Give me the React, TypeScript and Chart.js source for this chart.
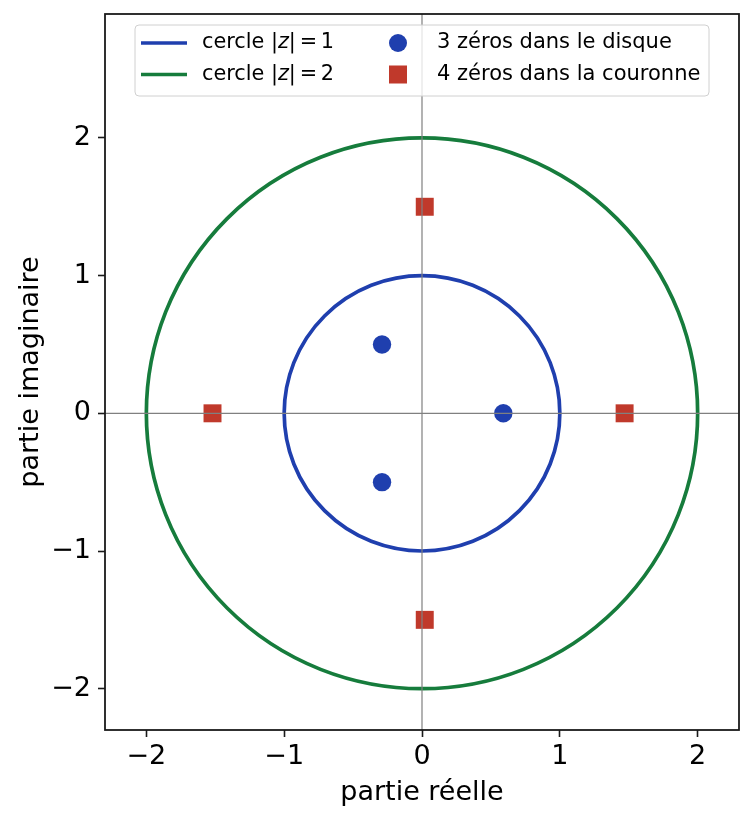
import React, { useEffect, useRef } from 'react';
import { Chart, registerables } from 'chart.js';

Chart.register(...registerables);

const FONT = "'DejaVu Sans', sans-serif";

const xTicks = [-2, -1, 0, 1, 2];
const yTicks = [-2, -1, 0, 1, 2];

const circleRadii = [1, 2];
const circleColors = ['#1f3fae', '#167c3c'];

const diskRe = [-0.29, -0.29, 0.59];
const diskIm = [0.5, -0.5, 0];
const annulusRe = [0.02, 0.02, -1.52, 1.47];
const annulusIm = [1.5, -1.5, 0, 0];

const diskColor = '#1f3fae';
const annulusColor = '#c0392b';

const diskLabel = '3 zéros dans le disque';
const annulusLabel = '4 zéros dans la couronne';

const fmt = (v: number) => (v < 0 ? '\u2212' + Math.abs(v) : String(v));

// "cercle |z| = r" with an italic z, spaced like mathtext
function drawCircleLabel(ctx: CanvasRenderingContext2D, x: number, y: number, r: number) {
  const parts: [string, boolean, number][] = [
    ['cercle |', false, 0],
    ['z', true, 0],
    ['|', false, 4],
    ['=', false, 3.5],
    [String(r), false, 0],
  ];
  let cx = x;
  for (const [t, it, gap] of parts) {
    ctx.font = (it ? 'italic ' : '') + '20.8px ' + FONT;
    ctx.fillText(t, cx, y);
    cx += ctx.measureText(t).width + gap;
  }
}

const decor = {
  id: 'decor',
  beforeDatasetsDraw(chart: any) {
    const { ctx, chartArea: a, scales } = chart;
    const { x, y } = scales;
    ctx.save();
    ctx.beginPath();
    ctx.rect(a.left, a.top, a.right - a.left, a.bottom - a.top);
    ctx.clip();
    const cx = x.getPixelForValue(0);
    const cy = y.getPixelForValue(0);
    circleRadii.forEach((r, i) => {
      const rx = x.getPixelForValue(r) - cx;
      const ry = cy - y.getPixelForValue(r);
      ctx.beginPath();
      ctx.ellipse(cx, cy, rx, ry, 0, 0, Math.PI * 2);
      ctx.strokeStyle = circleColors[i];
      ctx.lineWidth = 3.7;
      ctx.stroke();
    });
    ctx.restore();
  },
  afterDatasetsDraw(chart: any) {
    const { ctx, chartArea: a, scales } = chart;
    const x0 = scales.x.getPixelForValue(0);
    const y0 = scales.y.getPixelForValue(0);
    ctx.save();
    ctx.strokeStyle = '#808080';
    ctx.lineWidth = 1.2;
    ctx.beginPath();
    ctx.moveTo(a.left, y0);
    ctx.lineTo(a.right, y0);
    ctx.moveTo(x0, a.top);
    ctx.lineTo(x0, a.bottom);
    ctx.stroke();
    ctx.restore();
  },
  afterDraw(chart: any) {
    const { ctx, chartArea: a } = chart;
    ctx.save();
    // frame
    ctx.strokeStyle = '#1a1a1a';
    ctx.lineWidth = 1.8;
    ctx.strokeRect(a.left, a.top, a.right - a.left, a.bottom - a.top);

    // legend, two columns like matplotlib ncol=2
    const bx = 135, by = 25, bw = 574, bh = 71;
    ctx.beginPath();
    ctx.roundRect(bx, by, bw, bh, 4);
    ctx.fillStyle = 'rgba(255,255,255,0.8)';
    ctx.fill();
    ctx.strokeStyle = '#d0d0d0';
    ctx.lineWidth = 1;
    ctx.stroke();

    const rows = [43, 74.5];
    ctx.textBaseline = 'middle';
    circleRadii.forEach((r, i) => {
      ctx.strokeStyle = circleColors[i];
      ctx.lineWidth = 3.7;
      ctx.beginPath();
      ctx.moveTo(141, rows[i]);
      ctx.lineTo(187, rows[i]);
      ctx.stroke();
      ctx.fillStyle = '#000';
      drawCircleLabel(ctx, 202, rows[i], r);
    });

    ctx.fillStyle = diskColor;
    ctx.beginPath();
    ctx.arc(398, rows[0], 9, 0, Math.PI * 2);
    ctx.fill();
    ctx.fillStyle = annulusColor;
    ctx.fillRect(389, rows[1] - 9, 18, 18);

    ctx.fillStyle = '#000';
    ctx.font = '21px ' + FONT;
    ctx.fillText(diskLabel, 437, rows[0]);
    ctx.fillText(annulusLabel, 437, rows[1]);
    ctx.restore();
  },
};

export default function App() {
  const canvas = useRef<HTMLCanvasElement>(null);

  useEffect(() => {
    const tickFont = { family: FONT, size: 27 };
    const grid = {
      drawOnChartArea: false,
      drawTicks: true,
      tickLength: 7,
      tickColor: '#1a1a1a',
      tickWidth: 1.6,
    };
    const noPad = (s: any) => {
      s.paddingTop = 0;
      s.paddingBottom = 0;
      s.paddingLeft = 0;
      s.paddingRight = 0;
    };
    const chart = new Chart(canvas.current!, {
      type: 'scatter',
      data: {
        datasets: [
          {
            label: diskLabel,
            data: diskRe.map((re, i) => ({ x: re, y: diskIm[i] })),
            backgroundColor: diskColor,
            borderWidth: 0,
            pointStyle: 'circle',
            pointRadius: 9.2,
          },
          {
            label: annulusLabel,
            data: annulusRe.map((re, i) => ({ x: re, y: annulusIm[i] })),
            backgroundColor: annulusColor,
            borderWidth: 0,
            pointStyle: 'rect',
            pointRadius: 12.7,
          },
        ],
      },
      options: {
        animation: false,
        responsive: false,
        devicePixelRatio: 1,
        layout: { padding: { top: 14, right: 14, left: 0, bottom: 0 } },
        plugins: { legend: { display: false }, tooltip: { enabled: false } },
        scales: {
          x: {
            type: 'linear',
            min: -2.3,
            max: 2.3,
            afterBuildTicks: (s: any) => {
              s.ticks = xTicks.map((v) => ({ value: v }));
            },
            afterFit: (s: any) => {
              s.height = 94;
              noPad(s);
            },
            grid,
            border: { display: false },
            ticks: {
              callback: (v: any) => fmt(Number(v)),
              color: '#000',
              font: tickFont,
              padding: 4,
              maxRotation: 0,
              autoSkip: false,
            },
            title: {
              display: true,
              text: 'partie réelle',
              color: '#000',
              font: tickFont,
              padding: { top: 0, bottom: 15 },
            },
          },
          y: {
            type: 'linear',
            min: -2.3,
            max: 2.9,
            afterBuildTicks: (s: any) => {
              s.ticks = yTicks.map((v) => ({ value: v }));
            },
            afterFit: (s: any) => {
              s.width = 105;
              noPad(s);
            },
            grid,
            border: { display: false },
            ticks: {
              callback: (v: any) => fmt(Number(v)),
              color: '#000',
              font: tickFont,
              padding: 7,
              autoSkip: false,
            },
            title: {
              display: true,
              text: 'partie imaginaire',
              color: '#000',
              font: tickFont,
              padding: { top: 15, bottom: 0 },
            },
          },
        },
      },
      plugins: [decor],
    } as any);
    return () => {
      chart.destroy();
    };
  }, []);

  return (
    <div style={{ position: 'fixed', left: 0, top: 0, width: 753, height: 824, background: '#fff' }}>
      <canvas ref={canvas} width={753} height={824} />
    </div>
  );
}
